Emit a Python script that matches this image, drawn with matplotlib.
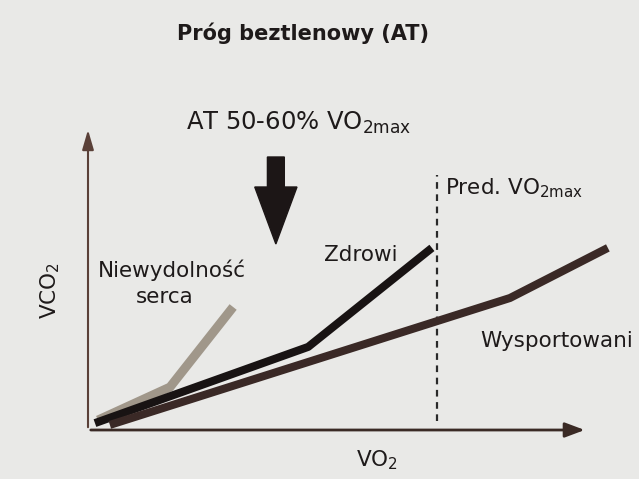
import matplotlib.pyplot as plt
from matplotlib.patches import FancyArrow

# values (VO2 on x, VCO2 on y, arbitrary units 0-100)
heart_x = [2.0, 16.5, 29.2]
heart_y = [3.3, 14.3, 41.0]
healthy_x = [1.4, 44.3, 69.2]
healthy_y = [2.3, 27.7, 60.7]
athlete_x = [4.4, 84.9, 104.6]
athlete_y = [1.7, 44.0, 60.7]
pred_vo2max = 70.2
at_arrow_x = 37.8

plt.rcParams['font.family'] = ['DejaVu Sans']
bg = '#e9e9e7'

fig = plt.figure(figsize=(6.39, 4.79), dpi=100, facecolor=bg)
ax = fig.add_axes([88 / 639, 49 / 479, 497 / 639, 300 / 479])
ax.set_facecolor(bg)
ax.set_xlim(0, 100)
ax.set_ylim(0, 100)
for s in ax.spines.values():
    s.set_visible(False)
ax.set_xticks([])
ax.set_yticks([])

# axes drawn as arrows
axis_col = '#3a2a25'
ax.annotate('', xy=(1.005, 0), xytext=(0, 0), xycoords='axes fraction',
            arrowprops=dict(arrowstyle='-|>,head_length=1.2,head_width=0.45',
                            color=axis_col, lw=2))
ax.annotate('', xy=(0, 1.01), xytext=(0, 0), xycoords='axes fraction',
            arrowprops=dict(arrowstyle='-|>,head_length=1.2,head_width=0.35',
                            color='#5a4038', lw=1.5))

# predicted VO2max
ax.plot([pred_vo2max, pred_vo2max], [3, 85], color='#2a2a2a', lw=1.6,
        dashes=(3, 2.5), clip_on=False)

ax.plot(heart_x, heart_y, color='#a0978a', lw=6.5, solid_capstyle='butt', clip_on=False)
ax.plot(healthy_x, healthy_y, color='#181313', lw=5.8, solid_capstyle='butt', clip_on=False)
ax.plot(athlete_x, athlete_y, color='#3a2926', lw=5.8, solid_capstyle='butt', clip_on=False)

# big AT arrow
ax.add_patch(FancyArrow(at_arrow_x, 91, 0, -29, width=3.4, head_width=8.5,
                        head_length=19, length_includes_head=True,
                        color='#1c1616', clip_on=False))

tc = '#1e1a1a'
fs = 15.5
fig.text(303 / 639, 1 - 33 / 479, 'Próg beztlenowy (AT)', ha='center', va='center',
         fontsize=15, fontweight='bold', color=tc)
fig.text(299 / 639, 1 - 123 / 479, r'AT 50-60% VO$_\mathregular{2max}$', ha='center',
         va='center', fontsize=17.5, color=tc)
fig.text(445 / 639, 1 - 188 / 479, r'Pred. VO$_\mathregular{2max}$', ha='left',
         va='center', fontsize=fs, color=tc)
fig.text(361 / 639, 1 - 255 / 479, 'Zdrowi', ha='center', va='center',
         fontsize=fs, color=tc)
fig.text(172 / 639, 1 - 270 / 479, 'Niewydolność', ha='center', va='center',
         fontsize=fs, color=tc)
fig.text(165 / 639, 1 - 297 / 479, 'serca', ha='center', va='center',
         fontsize=fs, color=tc)
fig.text(480 / 639, 1 - 341 / 479, 'Wysportowani', ha='left', va='center',
         fontsize=fs, color=tc)
fig.text(377 / 639, 1 - 460 / 479, r'VO$_\mathregular{2}$', ha='center', va='center',
         fontsize=fs, color=tc)
fig.text(50 / 639, 1 - 291 / 479, r'VCO$_\mathregular{2}$', ha='center', va='center',
         fontsize=fs, color=tc, rotation=90)

fig.savefig('out.png', dpi=100, facecolor=bg)
